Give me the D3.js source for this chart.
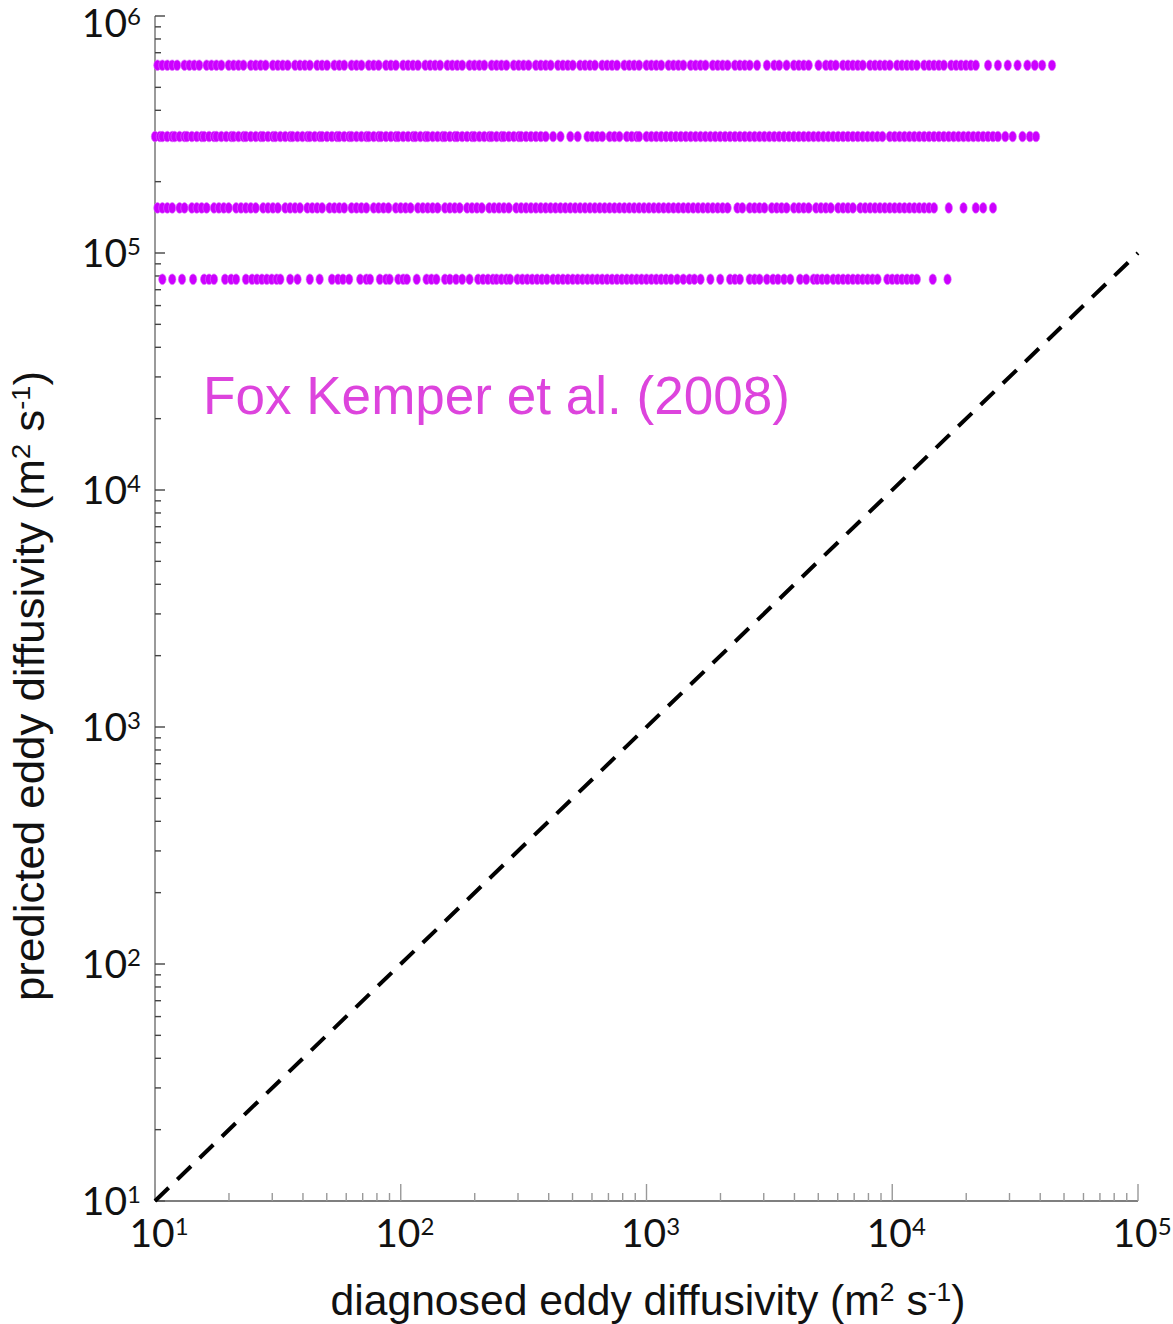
<!DOCTYPE html>
<html>
<head>
<meta charset="utf-8">
<script src="https://cdn.jsdelivr.net/npm/d3@7"></script>
<style>
  body { margin: 0; background: #fff; }
  svg { display: block; }
</style>
</head>
<body>
<div id="chart"></div>
<script>
// predicted eddy diffusivity of each row of points (m2/s)
var predictedLevels = [6.2e5, 3.1e5, 1.55e5, 7.75e4];

// diagnosed eddy diffusivity of the points, stored as log10(K)
var diagRow1 = [1.01,1.03,1.05,1.07,1.09,1.12,1.14,1.16,1.18,1.21,1.23,1.25,1.27,1.30,1.32,1.34,1.36,1.39,1.41,1.43,1.45,1.48,1.50,1.52,1.54,1.57,1.59,1.61,1.63,1.66,1.68,1.70,1.73,1.75,1.77,1.80,1.82,1.84,1.87,1.89,1.91,1.94,1.96,1.98,2.01,2.03,2.05,2.07,2.10,2.12,2.14,2.16,2.19,2.21,2.23,2.25,2.28,2.30,2.32,2.34,2.37,2.39,2.41,2.43,2.46,2.48,2.50,2.52,2.55,2.57,2.59,2.61,2.64,2.66,2.68,2.70,2.73,2.75,2.77,2.79,2.82,2.84,2.86,2.88,2.91,2.93,2.95,2.97,3.00,3.02,3.04,3.06,3.09,3.11,3.13,3.15,3.18,3.20,3.22,3.24,3.27,3.29,3.31,3.33,3.36,3.38,3.40,3.42,3.45,
  3.49,3.52,3.54,3.57,3.60,3.62,3.64,3.66,3.70,3.73,3.75,3.77,3.80,3.82,3.84,3.86,3.88,3.91,3.93,3.95,3.97,3.99,4.02,4.04,4.06,4.08,4.10,4.13,4.15,4.17,4.19,4.21,4.24,4.26,4.28,4.30,4.32,4.34,
  4.39,4.43,4.47,4.51,4.55,4.58,4.61,4.65];
var diagRow2 = [1.00,1.02,1.03,1.05,1.07,1.08,1.10,1.12,1.13,1.15,1.17,1.19,1.20,1.22,1.24,1.25,1.27,1.29,1.31,1.32,1.34,1.36,1.37,1.39,1.41,1.43,1.44,1.46,1.48,1.49,1.51,1.53,1.55,1.56,1.58,1.60,1.62,1.63,1.65,1.67,1.68,1.70,1.72,1.74,1.75,1.77,1.79,1.80,1.82,1.84,1.86,1.87,1.89,1.91,1.92,1.94,1.96,1.98,1.99,2.01,2.03,2.05,2.06,2.08,2.10,2.11,2.13,2.15,2.17,2.18,2.20,2.22,2.23,2.25,2.27,2.29,2.30,2.32,2.34,2.36,2.37,2.39,2.41,2.42,2.44,2.46,2.48,2.49,2.51,2.53,2.55,2.57,2.59,
  2.62,2.65,2.69,2.72,2.76,2.78,2.80,2.82,2.85,2.87,2.89,2.92,2.94,2.96,2.97,
  3.00,3.02,3.04,3.06,3.08,3.10,3.12,3.14,3.16,3.18,3.20,3.22,3.24,3.26,3.28,3.30,3.32,3.34,3.36,3.38,3.40,3.42,3.44,3.46,3.48,3.50,3.52,3.54,3.56,3.58,3.60,3.62,3.64,3.66,3.68,3.70,3.72,3.74,3.76,3.78,3.80,3.82,3.84,3.86,3.88,3.90,
  3.92,3.94,3.96,3.99,4.01,4.03,
  4.05,4.07,4.09,4.11,4.13,4.15,4.17,4.19,4.21,4.23,4.25,4.27,4.29,4.31,4.33,4.35,4.37,4.39,4.41,4.43,
  4.46,4.49,4.53,4.56,4.585];
var diagRow3 = [1.01,1.03,1.05,1.07,1.10,1.12,1.15,1.17,1.19,1.21,1.24,1.26,1.28,1.30,1.33,1.35,1.37,1.39,1.41,1.44,1.46,1.48,1.50,1.53,1.55,1.57,1.59,1.62,1.64,1.66,1.68,1.71,1.73,1.75,1.77,1.80,1.82,1.84,1.86,1.89,1.91,1.93,1.95,1.98,2.00,2.02,2.04,2.07,2.09,2.11,2.13,2.15,2.18,2.20,2.22,2.24,2.27,2.29,2.31,2.33,2.36,2.38,2.40,2.42,2.44,2.47,2.49,2.51,2.53,2.55,2.57,2.59,2.61,2.63,2.65,2.67,2.69,2.71,2.73,2.75,2.77,2.79,2.81,2.83,2.85,2.87,2.89,2.91,2.93,2.95,2.97,2.99,3.01,3.03,3.05,3.07,3.09,3.11,3.13,3.15,3.17,3.19,3.21,3.23,3.25,3.27,3.29,3.31,3.33,
  3.37,3.39,3.42,3.44,3.46,3.48,3.51,3.53,3.55,3.57,3.60,3.62,3.64,3.66,3.69,3.71,3.73,3.75,3.78,3.80,3.82,3.84,3.87,3.89,3.91,3.93,3.95,3.97,3.99,4.01,4.03,4.05,4.07,4.09,4.11,4.13,4.15,4.17,
  4.23,4.29,4.34,4.37,4.41];
var diagRow4 = [1.03,1.07,1.11,1.155,1.20,1.22,1.24,1.285,1.31,1.33,1.37,1.395,1.415,1.435,1.455,1.475,1.495,1.51,1.55,1.58,1.63,1.67,1.72,1.745,1.765,1.79,1.835,1.86,1.875,1.915,1.94,1.955,1.99,2.01,2.025,2.065,2.105,2.125,2.145,2.18,2.20,2.225,2.25,2.28,2.315,2.335,2.355,2.375,2.39,2.41,2.43,2.445,2.475,2.495,2.515,2.535,2.555,2.575,2.595,2.62,2.64,2.66,
  2.68,2.70,2.72,2.74,2.76,2.78,2.80,2.82,2.84,2.86,2.88,2.90,2.92,2.94,2.96,2.98,3.00,3.02,3.04,3.06,3.08,3.10,
  3.125,3.15,3.175,3.195,3.22,3.26,3.30,3.34,3.36,3.38,3.42,3.44,3.46,3.49,3.515,3.535,3.56,3.585,3.625,3.65,3.68,3.695,3.715,3.735,
  3.76,3.78,3.80,3.82,3.84,3.86,3.88,3.90,3.92,3.94,3.98,4.00,4.02,4.04,4.06,4.08,4.10,4.165,4.225];

var xDecades = [1, 2, 3, 4, 5];
var yDecades = [1, 2, 3, 4, 5, 6];
var oneToOne = [10, 1e5];

var width = 1173, height = 1324;

var svg = d3.select("#chart").append("svg")
    .attr("width", width)
    .attr("height", height);

var x = d3.scaleLog().domain([10, 1e5]).range([155, 1138]);
var y = d3.scaleLog().domain([10, 1e6]).range([1201, 16]);

function minorTicks(decades) {
    var out = [];
    decades.forEach(function (d) {
        for (var m = 1; m < 10; m++) {
            var v = m * Math.pow(10, d);
            if (v <= Math.pow(10, decades[decades.length - 1])) out.push({v: v, major: m === 1});
        }
    });
    return out;
}

// y axis
svg.append("line")
    .attr("x1", x(10)).attr("x2", x(10))
    .attr("y1", y(1e6)).attr("y2", y(10))
    .attr("stroke", "#9a9a9a").attr("stroke-width", 2);
svg.selectAll("line.ytick").data(minorTicks(yDecades)).enter().append("line")
    .attr("class", "ytick")
    .attr("x1", x(10))
    .attr("x2", function (d) { return x(10) + (d.major ? 10 : 6); })
    .attr("y1", function (d) { return y(d.v); })
    .attr("y2", function (d) { return y(d.v); })
    .attr("stroke", "#444").attr("stroke-width", 1.4);

// x axis
svg.append("line")
    .attr("x1", x(10)).attr("x2", x(1e5))
    .attr("y1", y(10)).attr("y2", y(10))
    .attr("stroke", "#555").attr("stroke-width", 1.5);
svg.selectAll("line.xtick").data(minorTicks(xDecades)).enter().append("line")
    .attr("class", "xtick")
    .attr("x1", function (d) { return x(d.v); })
    .attr("x2", function (d) { return x(d.v); })
    .attr("y1", y(10))
    .attr("y2", function (d) { return y(10) - (d.major ? 17 : 8); })
    .attr("stroke", "#999").attr("stroke-width", 1.4);

// tick labels
function powerLabel(sel) {
    sel.append("tspan").text("10");
    sel.append("tspan")
        .attr("dy", -12)
        .attr("font-size", 24)
        .text(function (d) { return d; });
}

svg.selectAll("text.ylab").data(yDecades).enter().append("text")
    .attr("class", "ylab")
    .attr("x", 141)
    .attr("y", function (d) { return Math.max(y(Math.pow(10, d)) + 14, 37); })
    .attr("text-anchor", "end")
    .attr("font-family", "Lato, 'Open Sans', sans-serif")
    .attr("font-size", 39)
    .attr("fill", "#111")
    .call(powerLabel);

svg.selectAll("text.xlab").data(xDecades).enter().append("text")
    .attr("class", "xlab")
    .attr("x", function (d) { return x(Math.pow(10, d)) + 4; })
    .attr("y", 1247)
    .attr("text-anchor", "middle")
    .attr("font-family", "Lato, 'Open Sans', sans-serif")
    .attr("font-size", 39)
    .attr("fill", "#111")
    .call(powerLabel);

// one-to-one dashed line
svg.append("line")
    .attr("x1", x(oneToOne[0])).attr("y1", y(oneToOne[0]))
    .attr("x2", x(oneToOne[1])).attr("y2", y(oneToOne[1]))
    .attr("stroke", "#000")
    .attr("stroke-width", 4)
    .attr("stroke-dasharray", "19 12");

// points
var rows = [diagRow1, diagRow2, diagRow3, diagRow4];
var points = [];
rows.forEach(function (row, i) {
    row.forEach(function (e) {
        points.push({kd: Math.pow(10, e), kp: predictedLevels[i]});
    });
});
svg.selectAll("ellipse.pt").data(points).enter().append("ellipse")
    .attr("class", "pt")
    .attr("cx", function (d) { return x(d.kd); })
    .attr("cy", function (d) { return y(d.kp); })
    .attr("rx", 3.7)
    .attr("ry", 5.3)
    .attr("fill", "#cc00ff")
    .attr("stroke", "#dd66ff")
    .attr("stroke-width", 0.6);

// annotation
svg.append("text")
    .attr("x", 203)
    .attr("y", 414)
    .attr("font-family", "'Liberation Sans', Arial, sans-serif")
    .attr("font-size", 54)
    .attr("textLength", 587)
    .attr("lengthAdjust", "spacingAndGlyphs")
    .attr("fill", "#dd44dd")
    .text("Fox Kemper et al. (2008)");

// axis titles
function unitsTitle(sel, words) {
    sel.append("tspan").text(words + " (m");
    sel.append("tspan").attr("dy", -14).attr("font-size", "0.62em").text("2");
    sel.append("tspan").attr("dy", 14).text(" s");
    sel.append("tspan").attr("dy", -14).attr("font-size", "0.62em").text("-1");
    sel.append("tspan").attr("dy", 14).text(")");
}

svg.append("text")
    .attr("x", 648)
    .attr("y", 1315)
    .attr("text-anchor", "middle")
    .attr("font-family", "'Liberation Sans', Arial, sans-serif")
    .attr("font-size", 42)
    .attr("textLength", 635)
    .attr("lengthAdjust", "spacingAndGlyphs")
    .attr("fill", "#111")
    .call(unitsTitle, "diagnosed eddy diffusivity");

svg.append("text")
    .attr("transform", "translate(44,686) rotate(-90)")
    .attr("text-anchor", "middle")
    .attr("font-family", "'Liberation Sans', Arial, sans-serif")
    .attr("font-size", 42)
    .attr("textLength", 630)
    .attr("lengthAdjust", "spacingAndGlyphs")
    .attr("fill", "#111")
    .call(unitsTitle, "predicted eddy diffusivity");
</script>
</body>
</html>
